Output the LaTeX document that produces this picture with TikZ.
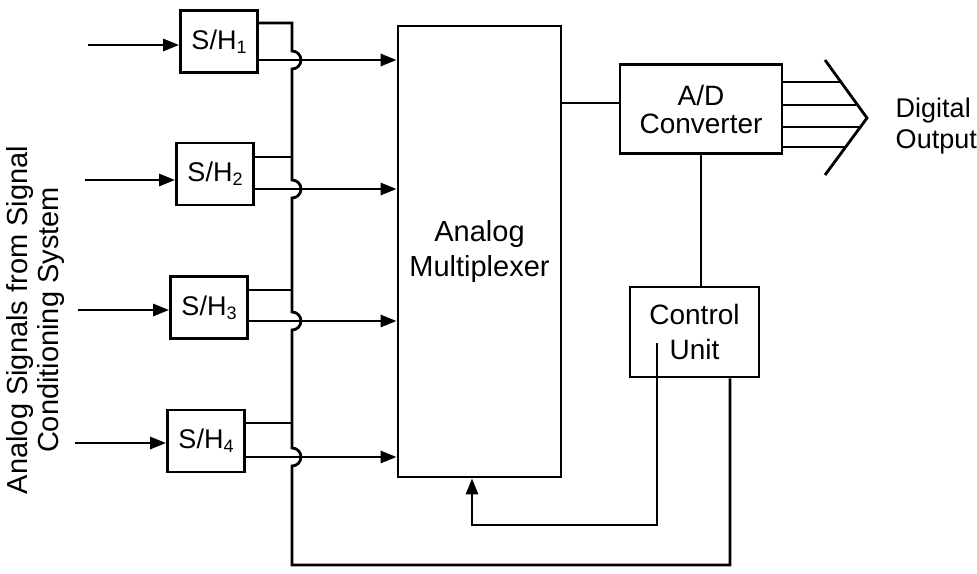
\documentclass[tikz,border=0pt]{standalone}
\usepackage{fontspec}
\setmainfont{Liberation Sans}
\usetikzlibrary{arrows.meta,calc}
\newcommand\shsub[1]{\raisebox{-4pt}{\fontsize{18}{18}\selectfont #1}}
\begin{document}
\begin{tikzpicture}[x=1pt,y=-1pt,line width=2.8pt,
  shbox/.style={draw,minimum width=77pt,minimum height=62pt,inner sep=0pt,font=\fontsize{27}{30}\selectfont},
  blk/.style={draw,inner sep=0pt,align=center},
  arr/.style={-{Triangle[length=16pt,width=12pt]}}]
\useasboundingbox (0,0) rectangle (977,573);

% S/H boxes
\node[shbox] (sh1) at (219,41.5) {S/H\shsub{1}};
\node[shbox] (sh2) at (215,174) {S/H\shsub{2}};
\node[shbox] (sh3) at (209,307.5) {S/H\shsub{3}};
\node[shbox] (sh4) at (206,441) {S/H\shsub{4}};

% main blocks
\node[blk,minimum width=163pt,minimum height=451pt,font=\fontsize{29}{35}\selectfont] (mux) at (479.5,251.5) {Analog\\Multiplexer};
\node[blk,minimum width=162pt,minimum height=89pt,font=\fontsize{28}{28}\selectfont] (ad) at (701,109) {A/D\\Converter};
\node[blk,minimum width=129pt,minimum height=90pt,font=\fontsize{28}{35}\selectfont] (cu) at (694.5,332) {Control\\Unit};

% labels
\node[align=left,anchor=west,font=\fontsize{27}{31}\selectfont] (dout) at (891,126) {Digital\\Output};
\node[rotate=90,align=center,font=\fontsize{29}{31}\selectfont] (ain) at (36,320) {Analog Signals from Signal\\Conditioning System};

% inputs
\coordinate (i1) at (88,45);
\coordinate (i2) at (85,180);
\coordinate (i3) at (78,310);
\coordinate (i4) at (75,443);
\draw[arr] (i1) -- (i1 -| sh1.west);
\draw[arr] (i2) -- (i2 -| sh2.west);
\draw[arr] (i3) -- (i3 -| sh3.west);
\draw[arr] (i4) -- (i4 -| sh4.west);

% outputs to multiplexer
\draw[arr] (sh1.east |- 0,60) -- (mux.west |- 0,60);
\draw[arr] (sh2.east |- 0,189) -- (mux.west |- 0,189);
\draw[arr] (sh3.east |- 0,321) -- (mux.west |- 0,321);
\draw[arr] (sh4.east |- 0,457) -- (mux.west |- 0,457);

% control bus with jump-overs
\draw (sh1.east |- 0,23) -- (292,23) -- (292,51)
  arc[start angle=90,end angle=-90,radius=9pt] -- (292,180)
  arc[start angle=90,end angle=-90,radius=9pt] -- (292,312)
  arc[start angle=90,end angle=-90,radius=9pt] -- (292,448)
  arc[start angle=90,end angle=-90,radius=9pt] -- (292,565) -- (730,565) -- (730,0 |- cu.south);
\draw (sh2.east |- 0,157) -- (292,157);
\draw (sh3.east |- 0,290) -- (292,290);
\draw (sh4.east |- 0,423) -- (292,423);

% multiplexer to A/D, A/D to control
\draw (mux.east |- 0,103) -- (ad.west |- 0,103);
\draw (ad.south) -- (ad.south |- cu.north);

% control to multiplexer
\coordinate (cut) at (657,343);
\draw[arr] (cut) -- (657,525) -- (472,525) -- (472,0 |- mux.south);

% digital output bus
\coordinate (c1) at (825,60);
\coordinate (c2) at (867,118);
\coordinate (c3) at (825,175);
\draw (c1) -- (c2) -- (c3);
\coordinate (e1) at ($(c1)!0.379!(c2)$);
\coordinate (e2) at ($(c1)!0.776!(c2)$);
\coordinate (e3) at ($(c2)!0.158!(c3)$);
\coordinate (e4) at ($(c2)!0.509!(c3)$);
\draw (ad.east |- e1) -- (e1);
\draw (ad.east |- e2) -- (e2);
\draw (ad.east |- e3) -- (e3);
\draw (ad.east |- e4) -- (e4);
\end{tikzpicture}
\end{document}
